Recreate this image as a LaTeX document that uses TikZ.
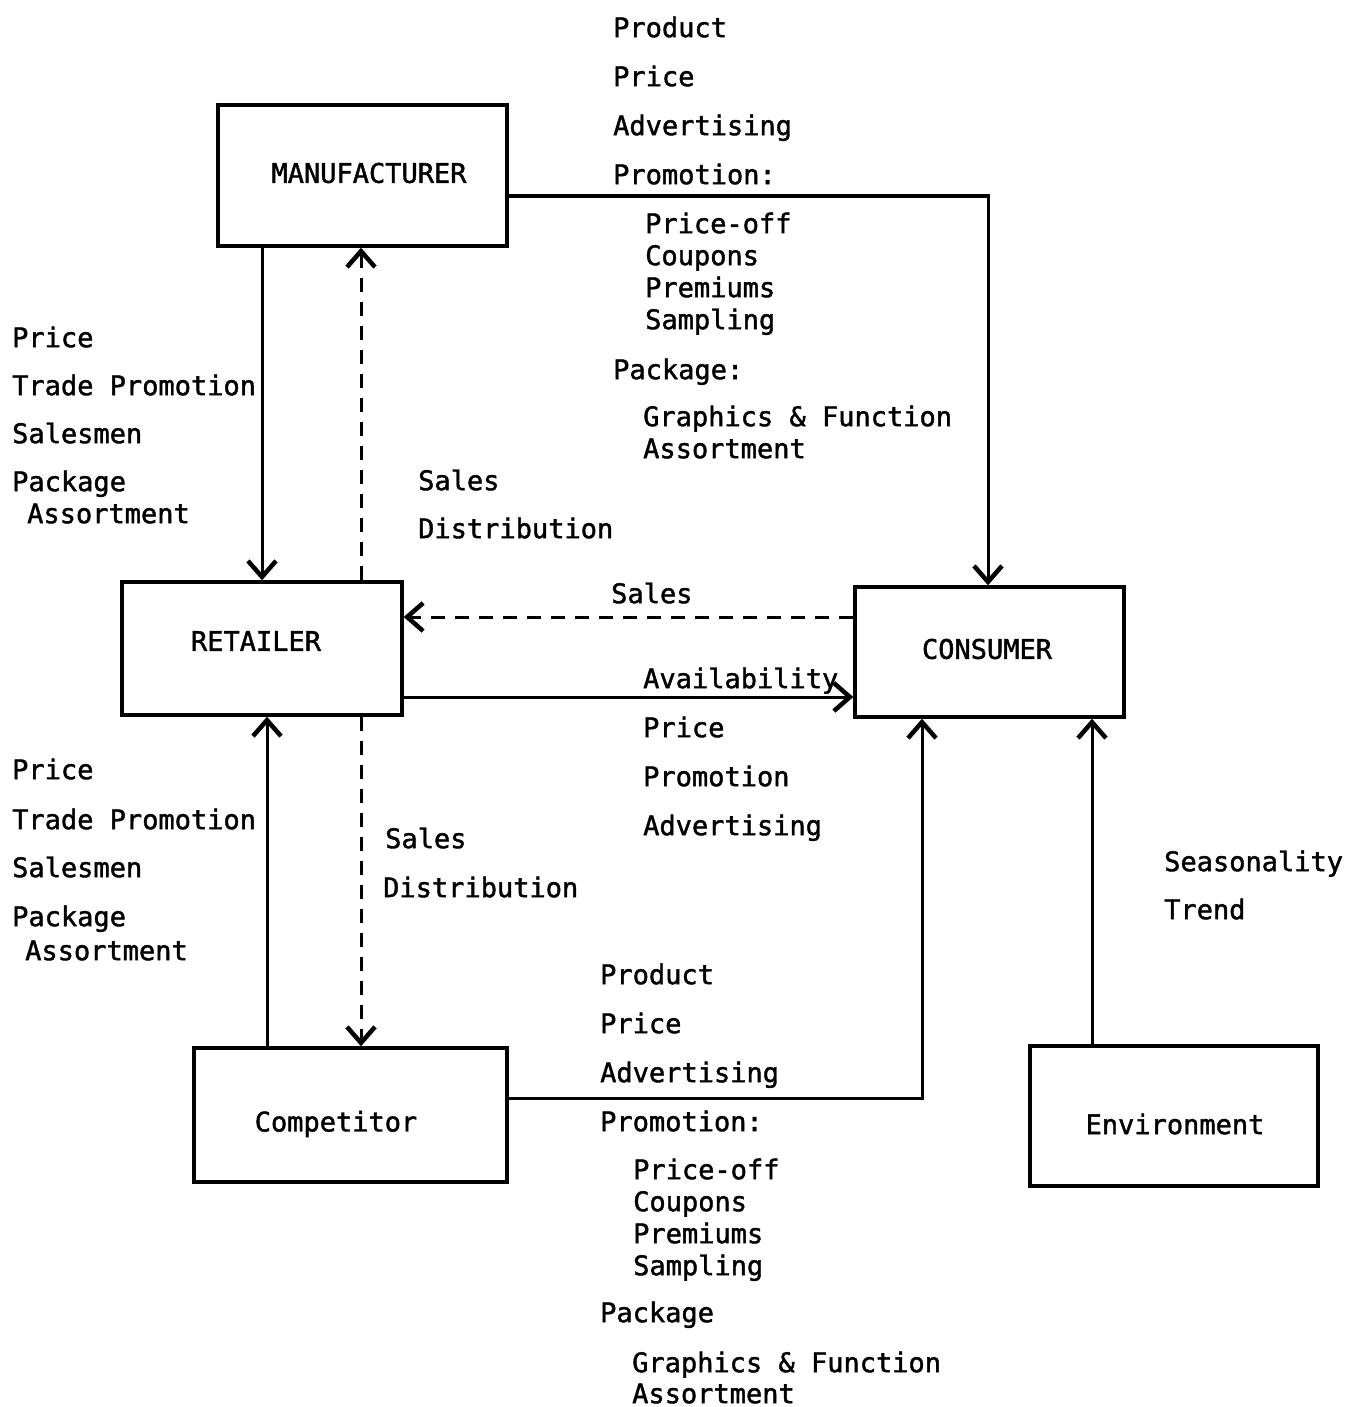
\documentclass[tikz,border=0pt]{standalone}
\usepackage{fontspec}
\newfontfamily\monofnt{DejaVu Sans Mono}[FakeBold=1.5]
\usetikzlibrary{arrows.meta}
\begin{document}
\begin{tikzpicture}[x=1pt,y=-1pt,
  box/.style={draw,line width=3.4pt,inner sep=0pt},
  conn/.style={draw,arrows={-Straight Barb[length=16pt,width=28pt,line width=4.5pt]},line width=3pt},
  dconn/.style={conn,dash pattern=on 14pt off 10pt},
  lbl/.style={anchor=mid west,font=\monofnt\fontsize{27}{27}\selectfont,inner sep=0pt,yshift=-7pt},
  btxt/.style={font=\monofnt\fontsize{27}{27}\selectfont}]
\useasboundingbox (0,0) rectangle (1360,1407);
% boxes
\node[box,minimum width=289pt,minimum height=141pt] (man) at (362.5,175.5) {};
\node[box,minimum width=280pt,minimum height=133pt] (ret) at (262,648.5) {};
\node[box,minimum width=269pt,minimum height=130pt] (con) at (989.5,652) {};
\node[box,minimum width=313pt,minimum height=134pt] (comp) at (350.5,1115) {};
\node[box,minimum width=288pt,minimum height=140pt] (env) at (1174,1116) {};
\node[btxt] (manT) at (369,173) {MANUFACTURER};
\node[btxt] (retT) at (256,641) {RETAILER};
\node[btxt] (conT) at (987,649) {CONSUMER};
\node[btxt] (compT) at (336,1124) {Competitor};
\node[btxt] (envT) at (1175,1124) {Environment};
% helper coordinates
\coordinate (mR) at (man.east |- 0,196);
\coordinate (cT) at (988,0 |- con.north);
\coordinate (c1) at (988,196);
\coordinate (mB1) at (262,0 |- man.south);
\coordinate (rT1) at (262,0 |- ret.north);
\coordinate (mB2) at (361,0 |- man.south);
\coordinate (rT2) at (361,0 |- ret.north);
\coordinate (cL1) at (con.west |- 0,617);
\coordinate (rR1) at (ret.east |- 0,617);
\coordinate (rR2) at (ret.east |- 0,697);
\coordinate (cL2) at (con.west |- 0,697);
\coordinate (compT1) at (267,0 |- comp.north);
\coordinate (rB1) at (267,0 |- ret.south);
\coordinate (rB2) at (361,0 |- ret.south);
\coordinate (compT2) at (361,0 |- comp.north);
\coordinate (compR) at (comp.east |- 0,1098);
\coordinate (c2) at (922,1098);
\coordinate (cB1) at (922,0 |- con.south);
\coordinate (envT1) at (1092,0 |- env.north);
\coordinate (cB2) at (1092,0 |- con.south);
% connectors
\path[conn] (mR) -- (c1) -- (cT);
\path[conn] (mB1) -- (rT1);
\path[dconn] (rT2) -- (mB2);
\path[dconn] (cL1) -- (rR1);
\path[conn] (rR2) -- (cL2);
\path[conn] (compT1) -- (rB1);
\path[dconn] (rB2) -- (compT2);
\path[conn] (compR) -- (c2) -- (cB1);
\path[conn] (envT1) -- (cB2);
% labels top right
\node[lbl] (t1) at (613,28) {Product};
\node[lbl] (t2) at (613,77) {Price};
\node[lbl] (t3) at (613,126) {Advertising};
\node[lbl] (t4) at (613,175) {Promotion:};
\node[lbl] (t5) at (645,224) {Price-off};
\node[lbl] (t6) at (645,256) {Coupons};
\node[lbl] (t7) at (645,288) {Premiums};
\node[lbl] (t8) at (645,320) {Sampling};
\node[lbl] (t9) at (613,370) {Package:};
\node[lbl] (t10) at (643,417) {Graphics \& Function};
\node[lbl] (t11) at (643,449) {Assortment};
% left group 1
\node[lbl] (l1) at (12,338) {Price};
\node[lbl] (l2) at (12,386) {Trade Promotion};
\node[lbl] (l3) at (12,434) {Salesmen};
\node[lbl] (l4) at (12,482) {Package};
\node[lbl] (l5) at (27,514) {Assortment};
\node[lbl] (s1) at (418,481) {Sales};
\node[lbl] (s2) at (418,529) {Distribution};
\node[lbl] (s3) at (611,594) {Sales};
% middle
\node[lbl] (a1) at (643,679) {Availability};
\node[lbl] (a2) at (643,728) {Price};
\node[lbl] (a3) at (643,777) {Promotion};
\node[lbl] (a4) at (643,826) {Advertising};
% left group 2
\node[lbl] (m1) at (12,770) {Price};
\node[lbl] (m2) at (12,820) {Trade Promotion};
\node[lbl] (m3) at (12,868) {Salesmen};
\node[lbl] (m4) at (12,917) {Package};
\node[lbl] (m5) at (25,951) {Assortment};
\node[lbl] (s4) at (385,839) {Sales};
\node[lbl] (s5) at (383,888) {Distribution};
% bottom group
\node[lbl] (b1) at (600,975) {Product};
\node[lbl] (b2) at (600,1024) {Price};
\node[lbl] (b3) at (600,1073) {Advertising};
\node[lbl] (b4) at (600,1122) {Promotion:};
\node[lbl] (b5) at (633,1170) {Price-off};
\node[lbl] (b6) at (633,1202) {Coupons};
\node[lbl] (b7) at (633,1234) {Premiums};
\node[lbl] (b8) at (633,1266) {Sampling};
\node[lbl] (b9) at (600,1313) {Package};
\node[lbl] (b10) at (632,1363) {Graphics \& Function};
\node[lbl] (b11) at (632,1394) {Assortment};
% environment
\node[lbl] (e1) at (1164,862) {Seasonality};
\node[lbl] (e2) at (1164,910) {Trend};
\end{tikzpicture}
\end{document}
